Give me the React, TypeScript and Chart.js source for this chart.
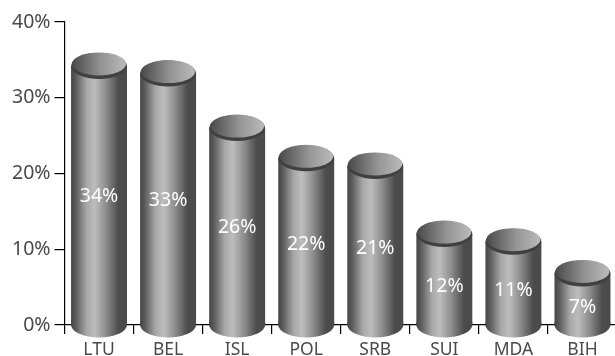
import React, { useEffect, useRef } from "react";
import { Chart, registerables } from "chart.js";

Chart.register(...registerables);

const categories = ["LTU", "BEL", "ISL", "POL", "SRB", "SUI", "MDA", "BIH"];
const shares = [34.2, 33.2, 26, 22, 21, 12, 11, 6.8];
const yTicks = [0, 10, 20, 30, 40];

const FONT = '"Noto Sans", sans-serif';
const INK = "#4a4a4a";

function bodyGradient(ctx: CanvasRenderingContext2D, l: number, r: number) {
  const g = ctx.createLinearGradient(l, 0, r, 0);
  g.addColorStop(0, "#454545");
  g.addColorStop(0.08, "#5a5a5a");
  g.addColorStop(0.28, "#a8a8a8");
  g.addColorStop(0.42, "#bdbdbd");
  g.addColorStop(0.62, "#8e8e8e");
  g.addColorStop(0.85, "#4c4c4c");
  g.addColorStop(1, "#4a4a4a");
  return g;
}

const cylinders = {
  id: "cylinders",
  afterDatasetsDraw(chart: any) {
    const { ctx } = chart;
    const meta = chart.getDatasetMeta(0);
    const base = chart.scales.y.getPixelForValue(0);
    meta.data.forEach((el: any, i: number) => {
      const rx = el.width / 2;
      const l = el.x - rx;
      const r = el.x + rx;
      ctx.save();
      ctx.fillStyle = bodyGradient(ctx, l, r);
      ctx.fillRect(l, base - 3, r - l, 4);
      ctx.beginPath();
      ctx.ellipse(el.x, base, rx, 12.5, 0, 0, Math.PI);
      ctx.closePath();
      ctx.fill();
      ctx.fillStyle = "#404040";
      ctx.beginPath();
      ctx.ellipse(el.x, el.y, rx, 13, 0, 0, Math.PI * 2);
      ctx.fill();
      const cap = ctx.createLinearGradient(l, 0, r, 0);
      cap.addColorStop(0, "#474747");
      cap.addColorStop(0.55, "#959595");
      cap.addColorStop(1, "#bcbcbc");
      ctx.fillStyle = cap;
      ctx.beginPath();
      ctx.ellipse(el.x, el.y - 2, rx - 1, 11.5, 0, 0, Math.PI * 2);
      ctx.fill();
      const v = shares[i];
      const shift = Math.max(0, (26 - v) * 0.4);
      ctx.fillStyle = "#ffffff";
      ctx.font = `19.5px ${FONT}`;
      ctx.textAlign = "center";
      ctx.textBaseline = "middle";
      ctx.fillText(`${Math.round(v)}%`, el.x, (el.y + base) / 2 + shift + 1);
      ctx.restore();
    });
  },
};

export default function App() {
  const ref = useRef<HTMLCanvasElement>(null);
  useEffect(() => {
    document.body.style.margin = "0";
    document.body.style.overflow = "hidden";
    const chart = new Chart(ref.current!, {
      type: "bar",
      data: {
        labels: categories,
        datasets: [
          {
            data: shares,
            barPercentage: 0.81,
            categoryPercentage: 1,
            backgroundColor: (c: any) => {
              const a = c.chart.chartArea;
              if (!a) return "#888";
              const w = (a.width / categories.length) * 0.81;
              const cx = a.left + (a.width / categories.length) * (c.dataIndex + 0.5);
              return bodyGradient(c.chart.ctx, cx - w / 2, cx + w / 2);
            },
          },
        ],
      },
      options: {
        responsive: false,
        animation: false,
        layout: { padding: { top: 22, right: 0, bottom: 0, left: 0 } },
        plugins: { legend: { display: false }, tooltip: { enabled: false } },
        scales: {
          x: {
            afterFit: (s: any) => { s.height = 31; },
            grid: { offset: true, drawOnChartArea: false, color: "#000", tickLength: 9, lineWidth: 1.2 },
            border: { color: "#000", width: 1.2 },
            ticks: { color: INK, font: { family: FONT, size: 17.5 }, padding: 6, maxRotation: 0, autoSkip: false },
          },
          y: {
            min: 0,
            max: 40,
            afterFit: (s: any) => { s.width = 64.5; },
            afterBuildTicks: (s: any) => { s.ticks = yTicks.map((value) => ({ value })); },
            grid: { drawOnChartArea: false, color: "#000", tickLength: 10, lineWidth: 1.2 },
            border: { color: "#000", width: 1.2 },
            ticks: { color: INK, font: { family: FONT, size: 19.5 }, padding: 4, callback: (v: any) => `${v}%` },
          },
        },
      },
      plugins: [cylinders],
    } as any);
    return () => chart.destroy();
  }, []);
  return <canvas ref={ref} width={617} height={356} style={{ display: "block" }} />;
}
